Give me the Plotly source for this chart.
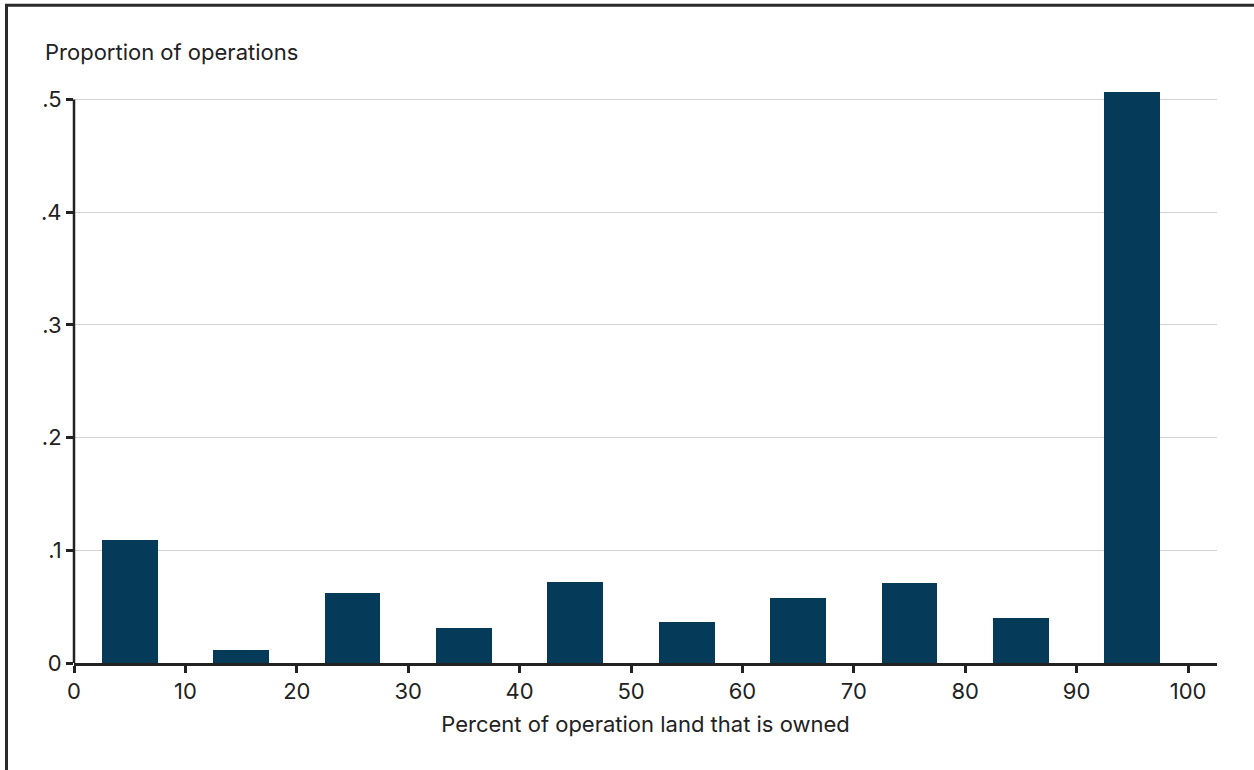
import plotly.graph_objects as go

bin_centers = [5, 15, 25, 35, 45, 55, 65, 75, 85, 95]
proportions = [0.109, 0.0113, 0.0618, 0.0308, 0.0716, 0.0361, 0.0574, 0.0707, 0.0397, 0.5064]
bin_width = 5
x_ticks = [0, 10, 20, 30, 40, 50, 60, 70, 80, 90, 100]
y_ticks = [0, 0.1, 0.2, 0.3, 0.4, 0.5]
y_tick_labels = ["0", ".1", ".2", ".3", ".4", ".5"]

BAR = "#063a59"
INK = "#222222"
FONT = "Inter, Roboto, sans-serif"
FS = 22

fig = go.Figure()
fig.add_trace(go.Bar(
    x=bin_centers, y=proportions, width=bin_width,
    marker=dict(color=BAR, line=dict(width=0)),
    hoverinfo="x+y",
))

L, R, T, B = 74, 37, 77, 107
W, H = 1254, 770
ymax = 0.52
xmax = 102.6

fig.update_layout(
    width=W, height=H,
    margin=dict(l=L, r=R, t=T, b=B, pad=0),
    paper_bgcolor="white", plot_bgcolor="white",
    font=dict(family=FONT, size=FS, color=INK),
    showlegend=False,
    bargap=0,
    xaxis=dict(
        range=[0, xmax], tickvals=x_ticks, ticktext=[str(v) for v in x_ticks],
        showgrid=False, zeroline=False,
        showline=True, linecolor=INK, linewidth=2.5,
        ticks="outside", ticklen=7, tickwidth=2.5, tickcolor=INK,
        tickfont=dict(size=FS, color=INK),
        title=dict(text="Percent of operation land that is owned", font=dict(size=FS, color=INK), standoff=14),
    ),
    yaxis=dict(
        range=[0, ymax], tickvals=y_ticks, ticktext=y_tick_labels,
        showgrid=True, gridcolor="#d3d3d3", gridwidth=1.2,
        zeroline=False, showline=False,
        ticks="outside", ticklen=7, tickwidth=2.5, tickcolor=INK,
        tickfont=dict(size=FS, color=INK),
    ),
)

# y axis line from 0 to .5
fig.add_shape(type="line", xref="paper", yref="y", x0=0, x1=0, y0=0, y1=0.5,
              line=dict(color=INK, width=2.5), layer="above")

# outer frame (left and top edges visible)
pw = W - L - R
ph = H - T - B
fx0 = (6.5 - L) / pw
fy1 = (H - B - 5.3) / ph
fig.add_shape(type="rect", xref="paper", yref="paper", x0=fx0, x1=1.5, y0=-1.0, y1=fy1,
              line=dict(color="#2b2b2b", width=3), fillcolor="rgba(0,0,0,0)", layer="above")

# y title at top-left
fig.add_annotation(text="Proportion of operations", xref="paper", yref="paper",
                   x=(43 - L) / pw, y=(H - B - 52) / ph, xanchor="left", yanchor="middle",
                   showarrow=False, font=dict(size=FS, color=INK, family=FONT))

fig.write_html("out.html", config={"displayModeBar": False},
               post_script="document.body.style.margin='0';")
